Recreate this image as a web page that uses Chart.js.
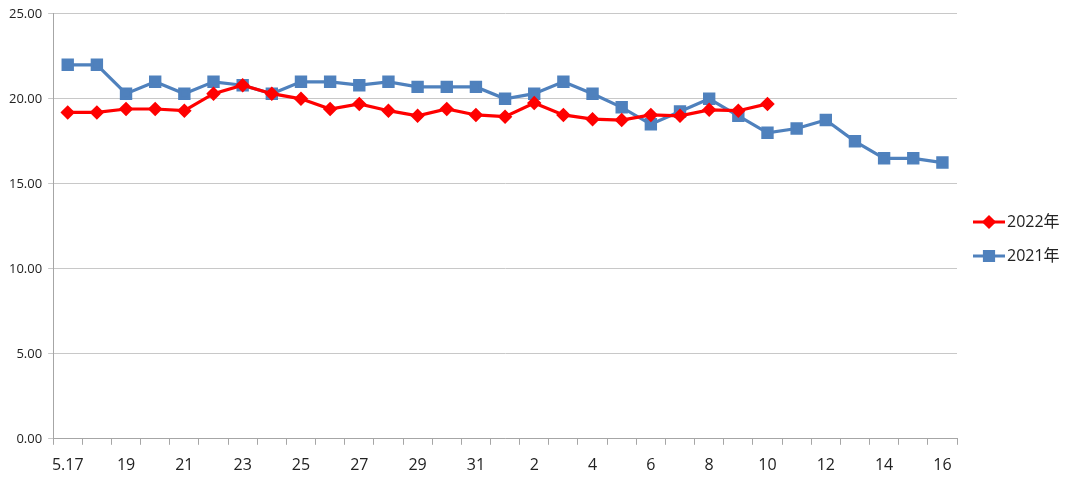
<!DOCTYPE html>
<html>
<head>
<meta charset="utf-8">
<script src="https://cdn.jsdelivr.net/npm/chart.js@4"></script>
<style>
  html, body { margin: 0; padding: 0; background: #fff; }
  #wrap { width: 1080px; height: 487px; }
</style>
</head>
<body>
<div id="wrap"><canvas id="c" width="1080" height="487"></canvas></div>
<script>
const days = ["5.17", "18", "19", "20", "21", "22", "23", "24", "25", "26", "27", "28", "29", "30", "31",
    "1", "2", "3", "4", "5", "6", "7", "8", "9", "10", "11", "12", "13", "14", "15", "16"];
const y2022 = [19.2, 19.2, 19.4, 19.4, 19.3, 20.3, 20.8, 20.3, 20.0, 19.4, 19.7, 19.3, 19.0, 19.4, 19.05,
    18.95, 19.75, 19.05, 18.8, 18.75, 19.05, 19.0, 19.35, 19.3, 19.7];
const y2021 = [22.0, 22.0, 20.3, 21.0, 20.3, 21.0, 20.8, 20.3, 21.0, 21.0, 20.8, 21.0, 20.7, 20.7, 20.7,
    20.0, 20.3, 21.0, 20.3, 19.5, 18.5, 19.25, 20.0, 19.0, 18.0, 18.25, 18.75, 17.5, 16.5, 16.5, 16.25];
const names = ["2022年", "2021年"];
const colors = ["#FF0000", "#4F81BD"];

const FONT = "'Open Sans', 'Noto Sans CJK SC', sans-serif";

// legend drawn by hand: line + marker like the office chart
const sideLegend = {
    id: "sideLegend",
    afterDraw(chart) {
        const ctx = chart.ctx;
        const x0 = 973, ys = [222, 256];
        chart.data.datasets.forEach((ds, i) => {
            const y = ys[i];
            ctx.save();
            ctx.strokeStyle = ds.borderColor;
            ctx.lineWidth = 3;
            ctx.beginPath();
            ctx.moveTo(x0, y);
            ctx.lineTo(x0 + 32, y);
            ctx.stroke();
            Chart.helpers.drawPoint(ctx, {
                pointStyle: ds.pointStyle, radius: ds.pointRadius, borderWidth: 1
            }, x0 + 16, y);
            ctx.fillStyle = ds.borderColor;
            ctx.fill();
            ctx.fillStyle = "#222";
            ctx.font = "16px " + FONT;
            ctx.textBaseline = "middle";
            ctx.fillText(ds.label, x0 + 34, y);
            ctx.restore();
        });
    }
};

new Chart(document.getElementById("c"), {
    type: "line",
    data: {
        labels: days,
        datasets: [
            {
                label: names[0], data: y2022, borderColor: colors[0], backgroundColor: colors[0],
                borderWidth: 3.2, pointStyle: "rectRot", pointRadius: 5, pointHoverRadius: 5, tension: 0
            },
            {
                label: names[1], data: y2021, borderColor: colors[1], backgroundColor: colors[1],
                borderWidth: 3.2, pointStyle: "rect", pointRadius: 6.5, pointHoverRadius: 6.5, tension: 0
            }
        ]
    },
    options: {
        responsive: false,
        animation: false,
        layout: { padding: { top: 7, right: 123, left: 3, bottom: 1 } },
        plugins: { legend: { display: false }, tooltip: { enabled: false } },
        scales: {
            x: {
                offset: true,
                grid: { offset: true, drawOnChartArea: false, drawTicks: true, tickLength: 6, color: "#A6A6A6" },
                border: { color: "#A6A6A6" },
                ticks: {
                    autoSkip: false, maxRotation: 0, color: "#222", padding: 11,
                    font: { family: FONT, size: 16 },
                    callback: function (v, i) { return i % 2 === 0 ? days[i] : ""; }
                }
            },
            y: {
                min: 0, max: 25,
                grid: { color: "#C8C8C8", tickLength: 5 },
                border: { color: "#A6A6A6" },
                ticks: {
                    stepSize: 5, color: "#222", padding: 6,
                    font: { family: FONT, size: 13 },
                    callback: v => v.toFixed(2)
                }
            }
        }
    },
    plugins: [sideLegend]
});
</script>
</body>
</html>
